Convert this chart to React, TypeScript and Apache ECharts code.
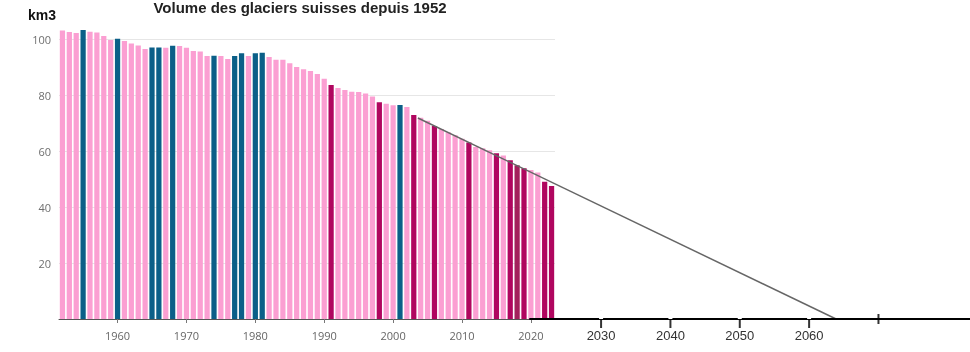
import React, { useEffect, useRef } from 'react';
import * as echarts from 'echarts';

const years = [
  '1952', '1953', '1954', '1955', '1956', '1957', '1958', '1959', '1960', '1961',
  '1962', '1963', '1964', '1965', '1966', '1967', '1968', '1969', '1970', '1971',
  '1972', '1973', '1974', '1975', '1976', '1977', '1978', '1979', '1980', '1981',
  '1982', '1983', '1984', '1985', '1986', '1987', '1988', '1989', '1990', '1991',
  '1992', '1993', '1994', '1995', '1996', '1997', '1998', '1999', '2000', '2001',
  '2002', '2003', '2004', '2005', '2006', '2007', '2008', '2009', '2010', '2011',
  '2012', '2013', '2014', '2015', '2016', '2017', '2018', '2019', '2020', '2021',
  '2022', '2023',
];

const volumes = [
  103.0, 102.5, 102.1, 103.2, 102.6, 102.3, 101.1, 99.6, 100.1, 99.3,
  98.4, 97.7, 96.4, 97.0, 97.0, 96.9, 97.6, 97.5, 96.9, 95.7,
  95.5, 93.9, 94.0, 93.9, 92.9, 93.9, 94.9, 93.9, 94.9, 95.1,
  93.6, 92.6, 92.6, 91.3, 90.0, 89.2, 88.6, 87.5, 85.8, 83.6,
  82.5, 81.8, 81.2, 81.1, 80.5, 79.5, 77.4, 76.9, 76.3, 76.4,
  75.7, 72.9, 71.9, 70.8, 68.9, 67.9, 66.7, 65.6, 64.4, 63.0,
  61.4, 61.0, 60.3, 59.2, 58.4, 56.7, 54.9, 53.8, 53.2, 52.3,
  49.0, 47.5,
];

const gainYears = ['1955', '1960', '1965', '1966', '1968', '1974', '1977', '1978', '1980', '1981', '2001'];
const heavyLossYears = ['1991', '1998', '2003', '2006', '2011', '2015', '2017', '2019', '2022', '2023'];
const extremeLossYears = ['2018'];

const trendLine = [
  [2003.6, 71.8],
  [2064.3, 0],
];

const futureLabels = [2030, 2040, 2050, 2060];
const futureTickMarks = [
  [2030, 0],
  [2040, 0],
  [2050, 0],
  [2060, 0],
];
const endTick = [[2070, 0]];

const yTicks = [0, 20, 40, 60, 80, 100];

const PINK = '#fb9fd2';
const BLUE = '#0b5f88';
const MAGENTA = '#b0065f';
const DARK_MAGENTA = '#a3215c';

function colorFor(y: string) {
  if (gainYears.includes(y)) return BLUE;
  if (heavyLossYears.includes(y)) return MAGENTA;
  if (extremeLossYears.includes(y)) return DARK_MAGENTA;
  return PINK;
}

export default function App() {
  const ref = useRef<HTMLDivElement>(null);

  useEffect(() => {
    if (!ref.current) return;
    const chart = echarts.init(ref.current, undefined, { renderer: 'svg' });
    const decade = (_i: number, v: string) => Number(v) % 10 === 0;
    chart.setOption({
      animation: false,
      grid: [
        { left: 59, width: 496, top: 39, height: 280 },
        { left: 59, right: 0, top: 39, height: 280 },
        { left: 530, right: 0, top: 39, height: 280 },
      ],
      xAxis: [
        {
          type: 'category',
          gridIndex: 0,
          data: years,
          axisLine: { lineStyle: { color: '#555', width: 1 } },
          axisTick: {
            show: true,
            alignWithLabel: true,
            interval: decade,
            length: 4,
            lineStyle: { color: '#777' },
          },
          axisLabel: {
            interval: decade,
            color: '#666',
            fontSize: 11,
            fontFamily: 'Open Sans',
            margin: 11,
          },
        },
        { type: 'value', gridIndex: 1, min: 1951.5, max: 2083.74, show: false },
        {
          type: 'value',
          gridIndex: 2,
          min: 2019.75,
          max: 2083.2,
          z: 10,
          axisLine: { show: true, onZero: false, lineStyle: { color: '#000', width: 2 } },
          axisTick: { show: false },
          axisLabel: {
            show: true,
            customValues: futureLabels,
            color: '#333',
            fontSize: 13,
            fontFamily: 'Liberation Sans',
            margin: 10,
            formatter: (v: number) => String(v),
          },
          splitLine: { show: false },
        },
      ],
      yAxis: [
        {
          type: 'value',
          gridIndex: 0,
          min: 0,
          max: 100,
          interval: 20,
          axisLine: { show: false },
          axisTick: { show: false },
          axisLabel: {
            color: '#6f6f6f',
            fontSize: 11,
            fontFamily: 'Open Sans',
            margin: 8,
            formatter: (v: number) => (v === yTicks[0] ? '' : String(v)),
          },
          splitLine: { lineStyle: { color: '#e6e6e6' } },
        },
        { type: 'value', gridIndex: 1, min: 0, max: 100, show: false },
        { type: 'value', gridIndex: 2, min: 0, max: 100, show: false },
      ],
      series: [
        {
          type: 'bar',
          xAxisIndex: 0,
          yAxisIndex: 0,
          clip: false,
          barCategoryGap: '24%',
          data: volumes.map((v, i) => ({ value: v, itemStyle: { color: colorFor(years[i]) } })),
        },
        {
          type: 'line',
          xAxisIndex: 1,
          yAxisIndex: 1,
          data: trendLine,
          symbol: 'none',
          z: 5,
          lineStyle: { color: '#666', width: 1.5 },
        },
        {
          type: 'scatter',
          xAxisIndex: 2,
          yAxisIndex: 2,
          data: futureTickMarks,
          symbol: 'rect',
          symbolSize: [2, 18],
          clip: false,
          z: 12,
          itemStyle: { color: '#000' },
        },
        {
          type: 'scatter',
          xAxisIndex: 2,
          yAxisIndex: 2,
          data: endTick,
          symbol: 'rect',
          symbolSize: [2, 10],
          clip: false,
          z: 12,
          itemStyle: { color: '#000' },
        },
        {
          type: 'bar',
          xAxisIndex: 2,
          yAxisIndex: 2,
          data: futureLabels.map((t) => [t, 3.2]),
          barWidth: 4,
          z: 13,
          itemStyle: { color: '#ffffff' },
        },
      ],
      graphic: [
        {
          type: 'text',
          x: 300,
          y: 7,
          style: {
            text: 'Volume des glaciers suisses depuis 1952',
            align: 'center',
            verticalAlign: 'middle',
            fontSize: 15,
            fontWeight: 'bold',
            fontFamily: 'Liberation Sans',
            fill: '#222',
          },
        },
        {
          type: 'text',
          x: 28,
          y: 15,
          style: {
            text: 'km3',
            align: 'left',
            verticalAlign: 'middle',
            fontSize: 14,
            fontWeight: 'bold',
            fontFamily: 'Liberation Sans',
            fill: '#111',
          },
        },
      ],
    });
    return () => chart.dispose();
  }, []);

  return (
    <div
      ref={ref}
      style={{ position: 'fixed', left: 0, top: 0, width: 970, height: 352 }}
    />
  );
}
